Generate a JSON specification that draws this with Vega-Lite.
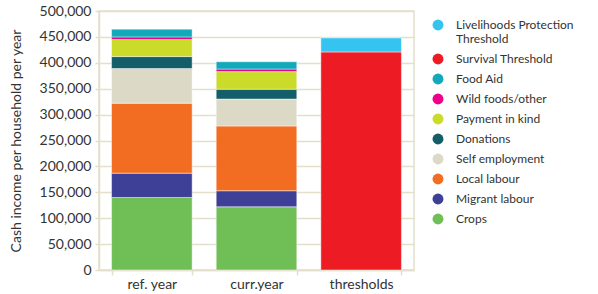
{
  "$schema": "https://vega.github.io/schema/vega-lite/v6.json",
  "width": 315,
  "height": 259,
  "padding": {"left": 9, "top": 4, "right": 5, "bottom": 4},
  "background": "white",
  "config": {
    "font": "Lato",
    "view": {"stroke": "#E3DFCB", "strokeWidth": 1.5},
    "axis": {"labelColor": "#333333", "titleColor": "#333333", "labelFontSize": 14, "titleFontSize": 14, "titleFontWeight": "normal", "domainColor": "#E3DFCB", "tickColor": "#E3DFCB", "gridColor": "#E3DFCB", "domainWidth": 1.5, "tickWidth": 1.5, "gridWidth": 1.5},
    "legend": {"labelColor": "#333333", "labelFontSize": 12}
  },
  "data": {
    "values": [
      {"group": "ref. year", "source": "Crops", "value": 140000},
      {"group": "ref. year", "source": "Migrant labour", "value": 47000},
      {"group": "ref. year", "source": "Local labour", "value": 135000},
      {"group": "ref. year", "source": "Self employment", "value": 67000},
      {"group": "ref. year", "source": "Donations", "value": 23000},
      {"group": "ref. year", "source": "Payment in kind", "value": 33000},
      {"group": "ref. year", "source": "Wild foods/other", "value": 5000},
      {"group": "ref. year", "source": "Food Aid", "value": 15000},
      {"group": "curr.year", "source": "Crops", "value": 122000},
      {"group": "curr.year", "source": "Migrant labour", "value": 31000},
      {"group": "curr.year", "source": "Local labour", "value": 125000},
      {"group": "curr.year", "source": "Self employment", "value": 52000},
      {"group": "curr.year", "source": "Donations", "value": 19000},
      {"group": "curr.year", "source": "Payment in kind", "value": 34000},
      {"group": "curr.year", "source": "Wild foods/other", "value": 5000},
      {"group": "curr.year", "source": "Food Aid", "value": 14000},
      {"group": "thresholds", "source": "Survival Threshold", "value": 421000},
      {"group": "thresholds", "source": "Livelihoods Protection Threshold", "value": 27000}
    ]
  },
  "transform": [
    {"calculate": "indexof(['Crops', 'Migrant labour', 'Local labour', 'Self employment', 'Donations', 'Payment in kind', 'Wild foods/other', 'Food Aid', 'Survival Threshold', 'Livelihoods Protection Threshold'], datum.source)", "as": "stackOrder"}
  ],
  "mark": {"type": "bar", "stroke": "white", "strokeWidth": 0.75, "strokeOpacity": 0.6},
  "encoding": {
    "x": {
      "field": "group", "type": "nominal", "sort": ["ref. year", "curr.year", "thresholds"],
      "scale": {"paddingInner": 0.23, "paddingOuter": 0.12},
      "axis": {"title": null, "labelAngle": 0, "tickBand": "extent", "tickSize": 5, "labelPadding": 2}
    },
    "y": {
      "field": "value", "type": "quantitative", "stack": "zero",
      "scale": {"domain": [0, 500000]},
      "axis": {"title": "Cash income per household per year", "format": ",d", "values": [0,50000,100000,150000,200000,250000,300000,350000,400000,450000,500000], "tickSize": 4, "labelPadding": 4, "titlePadding": 16}
    },
    "order": {"field": "stackOrder", "type": "quantitative", "sort": "ascending"},
    "color": {
      "field": "source", "type": "nominal",
      "scale": {
        "domain": ["Livelihoods Protection Threshold", "Survival Threshold", "Food Aid", "Wild foods/other", "Payment in kind", "Donations", "Self employment", "Local labour", "Migrant labour", "Crops"],
        "range": ["#35C4F0", "#ED1C24", "#12A9BA", "#EC008C", "#CBDB2A", "#145E6A", "#DCD9C6", "#F26C21", "#3E3F96", "#70BF56"]
      },
      "legend": {
        "title": null, "orient": "none", "legendX": 333, "legendY": 8, "symbolType": "circle", "symbolSize": 120, "symbolStrokeWidth": 0, "padding": 0,
        "labelOffset": 12, "labelLimit": 200, "rowPadding": 8,
        "labelExpr": "datum.label == 'Livelihoods Protection Threshold' ? ['Livelihoods Protection', 'Threshold'] : datum.label"
      }
    }
  }
}
